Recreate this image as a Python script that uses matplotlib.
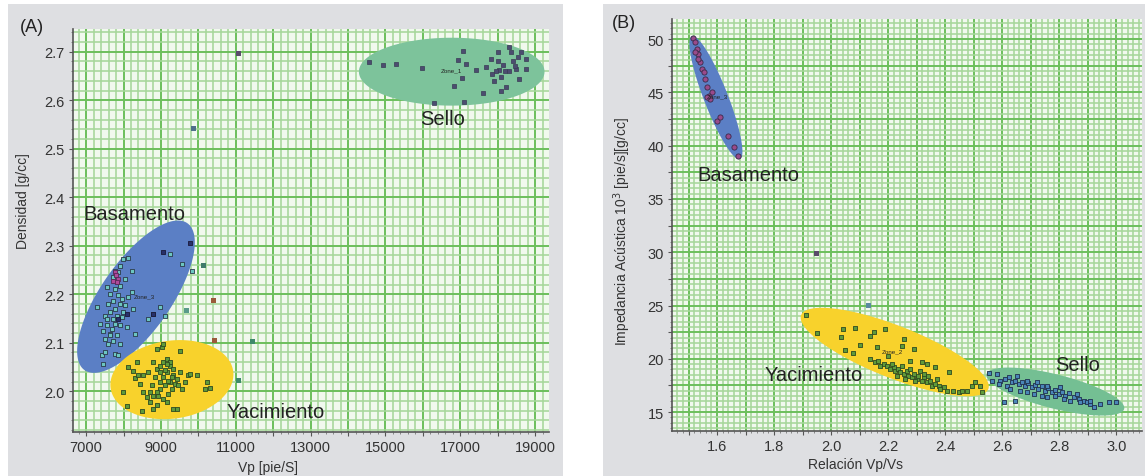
import numpy as np
import matplotlib
matplotlib.use("Agg")
import matplotlib.pyplot as plt
from matplotlib.ticker import MultipleLocator, FuncFormatter
from matplotlib.patches import Rectangle

plt.rcParams['font.family'] = ['Liberation Sans', 'DejaVu Sans']

# ---------------- Panel A data: Vp [pie/S] vs Densidad [g/cc] ----------------
sello_a_vp = [14570, 14930, 15290, 15980, 16310, 17110, 16840, 17060, 16950, 17150,
              17050, 17420, 17600, 17690, 17820, 17860, 18000, 18040, 18100, 18130,
              18220, 18300, 18350, 18400, 18490, 18570, 18620, 18750, 18750, 17950,
              18200, 18100, 18450, 18300, 18550, 17900, 18000]
sello_a_rho = [2.679, 2.672, 2.675, 2.667, 2.595, 2.596, 2.629, 2.701, 2.683, 2.675,
               2.646, 2.663, 2.615, 2.668, 2.686, 2.655, 2.680, 2.663, 2.648, 2.672,
               2.627, 2.710, 2.699, 2.680, 2.665, 2.644, 2.699, 2.686, 2.665, 2.660,
               2.660, 2.620, 2.670, 2.660, 2.690, 2.640, 2.700]

bas_a_vp = [7995, 8129, 7773, 7862, 7729, 7818, 7907, 7773, 7640, 7551,
            7862, 7951, 7729, 7595, 7907, 8040, 7773, 7640, 7507, 7818,
            7951, 7729, 7373, 7551, 7773, 7907, 7684, 7462, 7640, 7818,
            7507, 7729, 7595, 7418, 7507, 7773, 7862, 7462, 7285, 8218,
            8262, 8085, 8307, 8662, 8795, 8973, 9107, 9240, 9551, 9818,
            8129, 8218, 8040, 7907, 7640, 7907, 7551, 7995]
bas_a_rho = [2.273, 2.275, 2.249, 2.246, 2.235, 2.225, 2.218, 2.211, 2.201, 2.215,
             2.198, 2.191, 2.187, 2.180, 2.180, 2.177, 2.170, 2.163, 2.156, 2.156,
             2.153, 2.149, 2.139, 2.136, 2.139, 2.136, 2.129, 2.125, 2.119, 2.115,
             2.108, 2.104, 2.098, 2.074, 2.081, 2.077, 2.074, 2.057, 2.174, 2.249,
             2.170, 2.132, 2.119, 2.149, 2.160, 2.174, 2.156, 2.283, 2.263, 2.249,
             2.194, 2.205, 2.232, 2.259, 2.115, 2.098, 2.149, 2.163]
bas_a_mag_vp = [7773, 7862, 7818, 7729, 7800]
bas_a_mag_rho = [2.246, 2.232, 2.225, 2.228, 2.240]
bas_a_dark_vp = [9062, 9773, 8085, 7850, 8800]
bas_a_dark_rho = [2.287, 2.306, 2.160, 2.150, 2.160]

yac_a_vp = [7995, 8085, 8129, 8262, 8351, 8307, 8440, 8529, 8618, 8485,
            8707, 8795, 8884, 8751, 8840, 8884, 8973, 9062, 9151, 9240,
            9329, 9151, 9062, 8973, 9107, 9240, 9329, 9418, 9507, 9285,
            9196, 9062, 8929, 9151, 9329, 9418, 9551, 9640, 9729, 9773,
            9507, 9018, 8884, 9062, 8795, 8662, 8529, 8396, 9196, 9107,
            9285, 9373, 9462, 8973, 8884, 8795, 8707, 9240, 9151, 8973,
            10218, 10173, 10307, 9951]
yac_a_rho = [1.999, 1.969, 2.051, 2.041, 2.060, 2.027, 2.016, 1.998, 1.988, 1.960,
             1.978, 1.964, 1.971, 2.012, 2.029, 2.046, 2.053, 2.060, 2.067, 2.053,
             2.046, 2.040, 2.029, 2.019, 2.012, 2.019, 2.033, 2.026, 2.040, 2.005,
             1.995, 1.985, 1.991, 1.978, 1.964, 1.964, 2.005, 2.019, 2.033, 2.036,
             2.084, 2.091, 2.087, 2.098, 2.060, 2.040, 2.033, 2.033, 2.022, 2.043,
             2.029, 2.016, 2.012, 2.005, 1.998, 1.991, 1.998, 2.060, 2.057, 2.040,
             2.019, 2.005, 2.006, 2.033]

out_a_vp = [11080, 9860, 10128, 10395, 9685, 10440, 11436, 11062]
out_a_rho = [2.697, 2.541, 2.259, 2.187, 2.167, 2.104, 2.103, 2.022]
out_a_col = ['#5a4a6a', '#4f6f8a', '#3f7a6a', '#9a5a3a', '#5a9a8a', '#9a5a3a', '#3f8a6a', '#3f8a6a']

# ---------------- Panel B data: Relacion Vp/Vs vs Impedancia ----------------
bas_b_vpvs = [1.517, 1.523, 1.529, 1.534, 1.540, 1.546, 1.558, 1.564, 1.570, 1.575,
              1.599, 1.611, 1.640, 1.658, 1.675, 1.564, 1.582, 1.554, 1.534, 1.523]
bas_b_ai = [50.07, 49.69, 49.06, 48.59, 47.81, 47.19, 46.25, 45.47, 44.68, 44.37,
            42.34, 42.65, 40.87, 39.84, 39.05, 44.53, 45.00, 46.87, 48.12, 48.75]

yac_b_vpvs = [2.137, 2.154, 2.166, 2.172, 2.184, 2.195, 2.207, 2.219, 2.225, 2.236,
              2.242, 2.254, 2.266, 2.271, 2.283, 2.289, 2.301, 2.306, 2.318, 2.324,
              2.336, 2.347, 2.353, 2.365, 2.377, 2.382, 2.394, 2.406, 2.412, 2.429,
              2.447, 2.459, 2.476, 2.494, 2.505, 2.523, 2.529, 2.318, 2.336, 2.365,
              2.230, 2.260, 2.295, 2.341, 2.213, 2.248, 2.277, 2.312, 2.324, 2.371,
              1.911, 1.950, 2.041, 2.034, 2.084, 2.049, 2.076, 2.135, 2.149, 2.161,
              2.189, 2.254, 2.289, 2.248, 2.277, 2.200, 2.100]
yac_b_ai = [19.98, 19.67, 19.82, 19.35, 19.51, 19.29, 19.04, 19.20, 18.88, 19.04,
            18.73, 18.57, 18.88, 18.42, 18.26, 18.57, 18.11, 18.42, 17.95, 18.26,
            17.80, 17.95, 17.48, 17.64, 17.48, 17.17, 17.33, 17.01, 18.73, 17.01,
            16.86, 17.01, 17.01, 17.48, 17.80, 17.48, 16.86, 19.67, 19.51, 19.20,
            18.42, 18.11, 17.95, 18.42, 19.51, 19.35, 19.04, 18.88, 18.57, 18.11,
            24.11, 22.42, 22.80, 22.02, 22.89, 20.85, 20.54, 22.17, 22.49, 21.08,
            22.80, 21.86, 20.92, 21.23, 19.83, 20.30, 21.30]

sello_b_vpvs = [2.552, 2.581, 2.564, 2.593, 2.611, 2.622, 2.634, 2.646, 2.657, 2.669,
                2.681, 2.692, 2.704, 2.716, 2.727, 2.739, 2.751, 2.762, 2.774, 2.786,
                2.798, 2.809, 2.821, 2.833, 2.850, 2.868, 2.885, 2.897, 2.909, 2.920,
                2.944, 2.973, 3.000, 2.605, 2.646, 2.587, 2.616, 2.687, 2.710, 2.739,
                2.757, 2.786, 2.815, 2.839, 2.628, 2.663, 2.652, 2.687, 2.722, 2.757,
                2.804, 2.862, 2.874, 2.909]
sello_b_ai = [18.67, 18.57, 17.95, 17.95, 18.11, 18.26, 17.79, 17.95, 17.64, 17.79,
              17.48, 17.73, 17.32, 17.54, 17.17, 17.42, 17.01, 17.23, 16.85, 17.07,
              16.70, 16.92, 16.54, 16.79, 16.38, 16.23, 16.07, 15.92, 15.76, 15.45,
              15.76, 15.92, 15.92, 15.92, 16.07, 17.64, 17.48, 16.85, 16.70, 16.54,
              16.38, 16.54, 16.23, 16.07, 17.17, 17.01, 18.42, 17.95, 17.79, 17.48,
              17.32, 16.70, 15.92, 16.07]

out_b_vpvs = [1.950, 2.131]
out_b_ai = [29.90, 25.00]

# Zone ellipses (centre, half-axis vector 1, half-axis vector 2) in data units
ell_sello_a = ((16770, 2.659), (2480, 0.0), (0.0, 0.070))
ell_bas_a = ((8333, 2.195), (1373, 0.1515), (766, -0.0415))
ell_yac_a = ((9293, 2.024), (1637, 0.0177), (144, -0.0796))
ell_bas_b = ((1.596, 44.51), (0.0842, -5.77), (0.0393, 0.41))
ell_yac_b = ((2.223, 20.64), (0.328, -3.47), (-0.0337, -2.27))
ell_sello_b = ((2.786, 16.93), (0.2414, -1.63), (-0.0147, -1.55))

GRAY_BG = '#dedfe2'
MAJ = '#6cbf5c'
MIN = '#a6d79a'


def draw_ellipse(ax, ell, color):
    (cx, cy), (ax_, ay_), (bx_, by_) = ell
    t = np.linspace(0, 2 * np.pi, 300)
    x = cx + ax_ * np.cos(t) + bx_ * np.sin(t)
    y = cy + ay_ * np.cos(t) + by_ * np.sin(t)
    ax.fill(x, y, color=color, lw=0, zorder=1)


def style_axes(ax, xmaj, xmin, ymaj, ymin, xlab_every, ylab_every, xfmt, yfmt, xfirst, yfirst):
    ax.set_facecolor('#f1f9ee')
    ax.xaxis.set_major_locator(MultipleLocator(xmaj))
    ax.xaxis.set_minor_locator(MultipleLocator(xmin))
    ax.yaxis.set_major_locator(MultipleLocator(ymaj))
    ax.yaxis.set_minor_locator(MultipleLocator(ymin))

    def fx(v, p):
        k = (v - xfirst) / xmaj
        if abs(k - round(k)) < 1e-6 and round(k) % xlab_every == 0:
            return xfmt.format(v)
        return ''

    def fy(v, p):
        k = (v - yfirst) / ymaj
        if abs(k - round(k)) < 1e-6 and round(k) % ylab_every == 0:
            return yfmt.format(v)
        return ''
    ax.xaxis.set_major_formatter(FuncFormatter(fx))
    ax.yaxis.set_major_formatter(FuncFormatter(fy))
    ax.grid(which='minor', color=MIN, lw=1.15)
    ax.grid(which='major', color=MAJ, lw=1.4)
    ax.set_axisbelow(True)
    for s in ['top', 'right']:
        ax.spines[s].set_visible(False)
    for s in ['left', 'bottom']:
        ax.spines[s].set_color('#555555')
        ax.spines[s].set_linewidth(1.2)
    ax.tick_params(which='major', length=3, color='#555555', labelsize=10.5,
                   labelcolor='#333333', pad=3)
    ax.tick_params(which='minor', length=1.5, color='#777777')


fig = plt.figure(figsize=(11.45, 4.77), dpi=100)
fig.patch.set_facecolor('white')
fig.patches.append(Rectangle((8 / 1145, 0), 555 / 1145, 472 / 477, transform=fig.transFigure,
                             facecolor=GRAY_BG, edgecolor='none', zorder=-10))
fig.patches.append(Rectangle((603 / 1145, 0), 542 / 1145, 472 / 477, transform=fig.transFigure,
                             facecolor=GRAY_BG, edgecolor='none', zorder=-10))

# ---------------- Panel A ----------------
axA = fig.add_axes([73 / 1145, 44 / 477, 476 / 1145, 403 / 477])
axA.set_xlim(6650, 19370)
axA.set_ylim(1.916, 2.747)
style_axes(axA, 1000, 200, 0.1, 0.02, 2, 1, '{:.0f}', '{:.1f}', 7000, 2.0)

draw_ellipse(axA, ell_sello_a, '#7dc39b')
draw_ellipse(axA, ell_bas_a, '#5b7fc5')
draw_ellipse(axA, ell_yac_a, '#f8d22c')

ms = 12
axA.scatter(sello_a_vp, sello_a_rho, s=ms, marker='s', c='#4c4c70', edgecolors='#3a3a55',
            linewidths=0.5, zorder=3)
axA.scatter(bas_a_vp, bas_a_rho, s=ms, marker='s', c='#6cc6c0', edgecolors='#2a3a4a',
            linewidths=0.6, zorder=3)
axA.scatter(bas_a_mag_vp, bas_a_mag_rho, s=ms, marker='s', c='#b04a9a', edgecolors='#5a2a5a',
            linewidths=0.6, zorder=3)
axA.scatter(bas_a_dark_vp, bas_a_dark_rho, s=ms, marker='s', c='#27306a', edgecolors='#1a1a3a',
            linewidths=0.6, zorder=3)
axA.scatter(yac_a_vp, yac_a_rho, s=ms, marker='s', c='#5f9a3a', edgecolors='#2d4a22',
            linewidths=0.6, zorder=3)
axA.scatter(out_a_vp, out_a_rho, s=ms, marker='s', c=out_a_col, edgecolors='none', zorder=3)

axA.text(16750, 2.663, 'Zone_1', fontsize=4.5, color='#222222', ha='center', va='center', zorder=4)
axA.text(8262, 2.197, 'Zone_3', fontsize=4.5, color='#222222', ha='left', va='center', zorder=4)

axA.text(16520, 2.562, 'Sello', fontsize=14.5, color='#222222', ha='center', va='center', zorder=5)
axA.text(6920, 2.366, 'Basamento', fontsize=14.5, color='#222222', ha='left', va='center', zorder=5)
axA.text(10760, 1.958, 'Yacimiento', fontsize=14.5, color='#222222', ha='left', va='center', zorder=5)

axA.set_xlabel('Vp [pie/S]', fontsize=10, color='#333333')
axA.set_ylabel('Densidad [g/cc]', fontsize=10, color='#333333')
axA.xaxis.set_label_coords(0.41, -0.069)
axA.yaxis.set_label_coords(-0.09, 0.575)
fig.text(20 / 1145, 1 - 28 / 477, '(A)', fontsize=13, color='#222222', va='center', ha='left')

# ---------------- Panel B ----------------
axB = fig.add_axes([672 / 1145, 45 / 477, 470 / 1145, 412 / 477])
axB.set_xlim(1.442, 3.09)
axB.set_ylim(13.23, 51.88)
style_axes(axB, 0.1, 0.02, 2.5, 0.5, 2, 2, '{:.1f}', '{:.0f}', 1.6, 15.0)

draw_ellipse(axB, ell_bas_b, '#5b7fc5')
draw_ellipse(axB, ell_yac_b, '#f8d22c')
draw_ellipse(axB, ell_sello_b, '#74bf93')

axB.scatter(bas_b_vpvs, bas_b_ai, s=14, marker='o', c='#9a4a8a', edgecolors='#3a2a4a',
            linewidths=0.6, zorder=3)
axB.scatter(yac_b_vpvs, yac_b_ai, s=ms, marker='s', c='#5f9a3a', edgecolors='#2d4a22',
            linewidths=0.6, zorder=3)
axB.scatter(sello_b_vpvs, sello_b_ai, s=ms, marker='s', c='#4a86b8', edgecolors='#1f2f4f',
            linewidths=0.6, zorder=3)
axB.scatter(out_b_vpvs, out_b_ai, s=ms, marker='s', c=['#5a4a6a', '#5a8aa0'], edgecolors='none',
            zorder=3)

axB.text(1.60, 44.7, 'Zone_3', fontsize=4.5, color='#222222', ha='center', va='center', zorder=4)
axB.text(2.213, 20.76, 'Zone_2', fontsize=4.5, color='#222222', ha='center', va='center', zorder=4)

axB.text(1.53, 37.3, 'Basamento', fontsize=14.5, color='#222222', ha='left', va='center', zorder=5)
axB.text(1.768, 18.57, 'Yacimiento', fontsize=14.5, color='#222222', ha='left', va='center', zorder=5)
axB.text(2.786, 19.5, 'Sello', fontsize=14.5, color='#222222', ha='left', va='center', zorder=5)

axB.set_xlabel('Relación Vp/Vs', fontsize=10, color='#333333')
axB.set_ylabel('Impedancia Acústica 10$^3$ [pie/s][g/cc]', fontsize=10, color='#333333')
axB.xaxis.set_label_coords(0.39, -0.063)
axB.yaxis.set_label_coords(-0.083, 0.487)
fig.text(612 / 1145, 1 - 23 / 477, '(B)', fontsize=13, color='#222222', va='center', ha='left')

fig.savefig('out.png', dpi=100, facecolor='white')
